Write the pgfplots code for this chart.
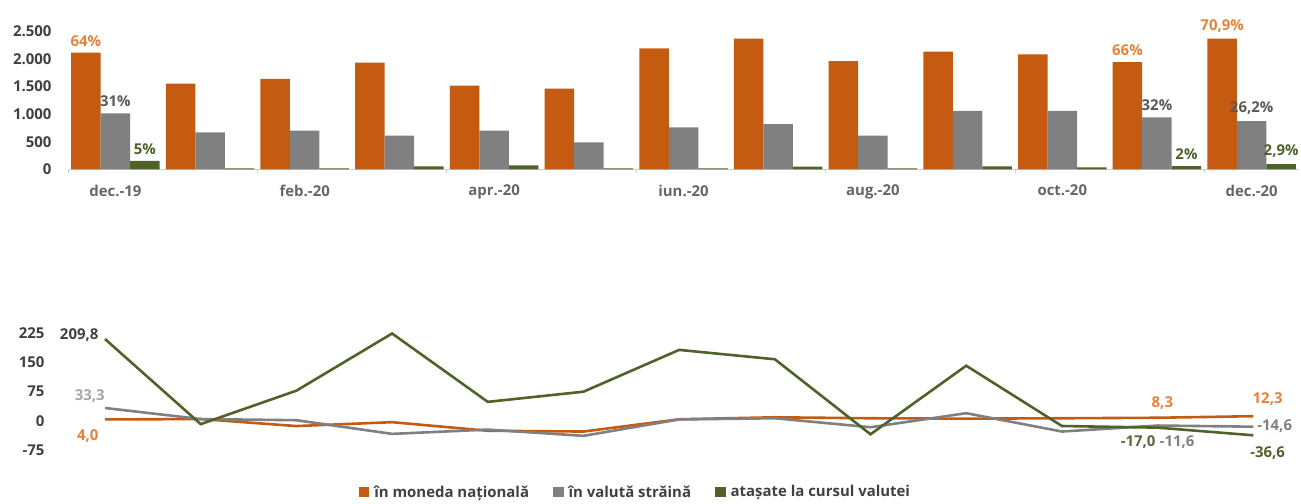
\documentclass[border=0pt]{standalone}
\usepackage{pgfplots}
\pgfplotsset{compat=1.18}
\usepackage{fontspec}
\setmainfont{Open Sans}

\definecolor{cOr}{HTML}{C55A11}
\definecolor{cGr}{HTML}{808080}
\definecolor{cGn}{HTML}{4F6228}
\definecolor{cOrL}{HTML}{E3823A}
\definecolor{cTxt}{HTML}{404040}
\definecolor{cGrL}{HTML}{A6A6A6}

\newcommand\lblfont{\fontsize{15}{17}\selectfont\bfseries}

\begin{document}
\begin{tikzpicture}
\useasboundingbox (0bp,0bp) rectangle (1301bp,504bp);

% top: stock by currency
\begin{axis}[
  at={(68bp,334.5bp)}, anchor=south west,
  scale only axis, width=1231bp, height=138.5bp,
  ybar=0pt, bar width=29.5bp,
  xmin=-0.5, xmax=12.5, ymin=0, ymax=2500,
  ytick={0,500,...,2500},
  xtick={0,2,...,12},
  xticklabels={dec.-19,feb.-20,apr.-20,iun.-20,aug.-20,oct.-20,dec.-20},
  minor xtick={-0.5,1.5,...,11.5},
  axis x line*=bottom, axis y line*=left,
  x axis line style={draw=black!20, line width=0.8bp, -},
  y axis line style={draw=none},
  major tick length=0pt, minor tick length=4bp, tick align=outside,
  minor tick style={draw=black!20, line width=0.8bp},
  /pgf/number format/.cd, 1000 sep={.}, assume math mode=true,
  /pgfplots/.cd,
  yticklabel style={font=\lblfont, color=cTxt, xshift=-13bp},
  xticklabel style={font=\lblfont, color=black!60, yshift=-12bp},
  clip=false,
  point meta=explicit symbolic,
  nodes near coords,
  nodes near coords style={font=\lblfont, anchor=south, yshift=3bp},
]
\addplot[fill=cOr, draw=none, nodes near coords style={color=cOrL}] coordinates {
  (0,2108)[64\%] (1,1549)[] (2,1634)[] (3,1928)[] (4,1513)[] (5,1458)[]
  (6,2188)[] (7,2361)[] (8,1958)[] (9,2126)[] (10,2079)[] (11,1940)[66\%] (12,2362)[70,9\%]
};
\addplot[fill=cGr, draw=none, nodes near coords style={color=black!65}] coordinates {
  (0,1014)[31\%] (1,671)[] (2,700)[] (3,610)[] (4,700)[] (5,491)[]
  (6,762)[] (7,821)[] (8,610)[] (9,1056)[] (10,1056)[] (11,940)[32\%] (12,873)[26,2\%]
};
\addplot[fill=cGn, draw=none, nodes near coords style={color=cGn}] coordinates {
  (0,155)[5\%] (1,20)[] (2,20)[] (3,55)[] (4,75)[] (5,20)[]
  (6,20)[] (7,50)[] (8,20)[] (9,55)[] (10,40)[] (11,59)[2\%] (12,97)[2,9\%]
};
\end{axis}

% bottom: annual change, %
\begin{axis}[
  at={(48bp,53.7bp)}, anchor=south west,
  scale only axis, width=1234bp, height=117.2bp,
  xmin=-0.596, xmax=12.3, ymin=-75, ymax=225,
  ytick={-75,0,75,150,225},
  axis x line=none, axis y line*=left,
  y axis line style={draw=none},
  major tick length=0pt,
  /pgf/number format/.cd, assume math mode=true,
  /pgfplots/.cd,
  yticklabel style={font=\lblfont, color=cTxt},
  clip=false,
  legend style={at={(0.476,-0.356)}, anchor=center, draw=none, fill=none,
    legend columns=3, font=\lblfont, text=cTxt,
    /tikz/every even column/.append style={column sep=22bp}},
  legend image code/.code={\fill[#1] (0bp,-4bp) rectangle (8bp,4bp); \path (11bp,0bp);},
  every axis plot/.append style={line width=2.6bp, mark=none},
]
\addplot[color=cOr] coordinates {
  (0,4.0) (1,5) (2,-13) (3,-3) (4,-25) (5,-27) (6,4.4)
  (7,9.5) (8,7) (9,6) (10,7) (11,8.3) (12,12.3)
};
\addplot[color=cGr] coordinates {
  (0,33.3) (1,5) (2,2) (3,-33) (4,-22) (5,-38) (6,4)
  (7,7) (8,-16) (9,20) (10,-27) (11,-11.6) (12,-14.6)
};
\addplot[color=cGn] coordinates {
  (0,209.8) (1,-8) (2,77.6) (3,224) (4,49) (5,75) (6,182)
  (7,158) (8,-34) (9,141.5) (10,-12.8) (11,-17.0) (12,-36.6)
};
\legend{în moneda națională, în valută străină, atașate la cursul valutei}

\begin{scope}[every node/.style={font=\lblfont}]
\node[color=cTxt] at (axis cs:-0.27,220) {209,8};
\node[color=cGrL] at (axis cs:-0.16,65) {33,3};
\node[color=cOrL] at (axis cs:-0.18,-38) {4,0};
\node[color=cOrL] at (axis cs:11.05,46) {8,3};
\node[color=cOrL] at (axis cs:12.15,56) {12,3};
\node[color=cGr, anchor=west, inner sep=0pt] at (axis cs:12.04,-12) {-14,6};
\node[color=cGn] at (axis cs:12.15,-82) {-36,6};
\node[color=cGn!80!gray, anchor=east, inner sep=0pt] at (axis cs:10.98,-53) {-17,0};
\node[color=cGr, anchor=west, inner sep=0pt] at (axis cs:11.02,-53) {-11,6};
\end{scope}
\end{axis}
\end{tikzpicture}
\end{document}
